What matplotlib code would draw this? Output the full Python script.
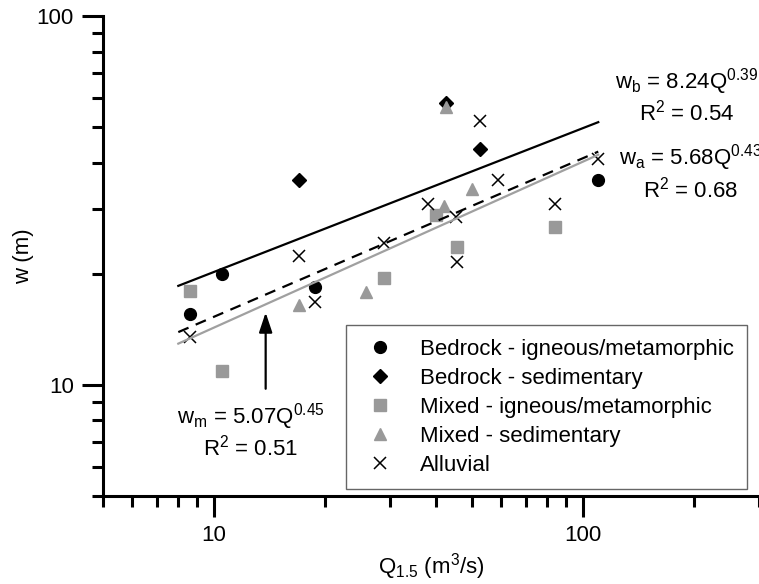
import matplotlib
matplotlib.use("Agg")
import numpy as np
import matplotlib.pyplot as plt
from matplotlib.ticker import LogLocator, NullFormatter, FixedLocator

plt.rcParams['font.family'] = ['Liberation Sans', 'DejaVu Sans']
plt.rcParams['mathtext.fontset'] = 'custom'
plt.rcParams['mathtext.rm'] = 'Liberation Sans'
plt.rcParams['mathtext.it'] = 'Liberation Sans:italic'

# discharge Q1.5 (m3/s) and width w (m)
bed_ign_q = [8.6, 10.5, 18.8, 110]
bed_ign_w = [15.6, 20.0, 18.4, 36.0]
bed_sed_q = [17.0, 42.5, 52.5]
bed_sed_w = [36.0, 58.0, 43.5]
mix_ign_q = [8.6, 10.5, 28.8, 40.0, 45.5, 84.0]
mix_ign_w = [18.0, 10.9, 19.5, 28.8, 23.7, 26.8]
mix_sed_q = [17.0, 25.8, 42.0, 42.5, 50.0]
mix_sed_w = [16.4, 17.8, 30.5, 56.5, 34.0]
alluv_q = [8.6, 17.0, 18.8, 28.8, 38.0, 45.3, 45.5, 52.5, 59.0, 84.0, 110]
alluv_w = [13.5, 22.4, 16.8, 24.2, 31.0, 28.5, 21.5, 52.0, 36.0, 31.0, 41.0]

# power-law fits w = a * Q^b
fit_names = ['b', 'a', 'm']
fit_coef = [8.24, 5.68, 5.07]
fit_exp = [0.39, 0.43, 0.45]
fit_r2 = [0.54, 0.68, 0.51]
fit_range = [8.0, 110.0]

fig = plt.figure(figsize=(7.59, 5.84), dpi=100)
ax = fig.add_axes([103 / 759, 1 - 495.7 / 584, 656 / 759, 479.7 / 584])

gray = '#999999'
ms = 8.5
ax.plot(bed_ign_q, bed_ign_w, 'o', color='black', ms=ms, ls='none',
        label='Bedrock - igneous/metamorphic')
ax.plot(bed_sed_q, bed_sed_w, 'D', color='black', ms=7, ls='none',
        label='Bedrock - sedimentary')
ax.plot(mix_ign_q, mix_ign_w, 's', color=gray, ms=ms, ls='none',
        label='Mixed - igneous/metamorphic')
ax.plot(mix_sed_q, mix_sed_w, '^', color=gray, ms=ms, ls='none',
        label='Mixed - sedimentary')
ax.plot(alluv_q, alluv_w, 'x', color='black', ms=ms, mew=1.1, ls='none',
        label='Alluvial')

qq = np.array(fit_range)
styles = [dict(color='black', ls='-', lw=1.6),
          dict(color='black', ls=(0, (5, 3.5)), lw=1.6),
          dict(color='#a0a0a0', ls='-', lw=1.6)]
for a, b, st in zip(fit_coef, fit_exp, styles):
    ax.plot(qq, a * qq ** b, **st)

fs = 16
# equation labels (the right-hand ones run off the edge, as in the original)
ax.text(191, 66.3, r'w$_\mathregular{b}$ = %.2fQ$^\mathregular{%.2f}$' % (fit_coef[0], fit_exp[0]),
        ha='center', va='center', fontsize=fs, clip_on=False)
ax.text(191, 54.7, r'R$^\mathregular{2}$ = %.2f' % fit_r2[0],
        ha='center', va='center', fontsize=fs)
ax.text(196, 41.3, r'w$_\mathregular{a}$ = %.2fQ$^\mathregular{%.2f}$' % (fit_coef[1], fit_exp[1]),
        ha='center', va='center', fontsize=fs, clip_on=False)
ax.text(196, 33.8, r'R$^\mathregular{2}$ = %.2f' % fit_r2[1],
        ha='center', va='center', fontsize=fs)
ax.text(12.6, 8.2, r'w$_\mathregular{m}$ = %.2fQ$^\mathregular{%.2f}$' % (fit_coef[2], fit_exp[2]),
        ha='center', va='center', fontsize=fs)
ax.text(12.6, 6.74, r'R$^\mathregular{2}$ = %.2f' % fit_r2[2],
        ha='center', va='center', fontsize=fs)
ax.annotate('', xy=(13.8, 15.7), xytext=(13.8, 9.75),
            arrowprops=dict(arrowstyle='-|>,head_length=1.2,head_width=0.4',
                            color='black', lw=1.6, shrinkA=0, shrinkB=0))

ax.set_xscale('log')
ax.set_yscale('log')
ax.set_xlim(5, 300)
ax.set_ylim(5, 100)

ax.xaxis.set_major_locator(FixedLocator([10, 100]))
ax.yaxis.set_major_locator(FixedLocator([10, 100]))
ax.xaxis.set_minor_locator(LogLocator(base=10, subs=np.arange(2, 10)))
ax.yaxis.set_minor_locator(LogLocator(base=10, subs=np.arange(2, 10)))
ax.xaxis.set_minor_formatter(NullFormatter())
ax.yaxis.set_minor_formatter(NullFormatter())
ax.set_xticklabels(['10', '100'])
ax.set_yticklabels(['10', '100'])

for s in ['top', 'right']:
    ax.spines[s].set_visible(False)
for s in ['left', 'bottom']:
    ax.spines[s].set_linewidth(2.2)
ax.tick_params(which='major', length=15, width=2.2, labelsize=fs, pad=6)
ax.tick_params(which='minor', length=8, width=2.2)

ax.set_xlabel(r'Q$_\mathregular{1.5}$ (m$^\mathregular{3}$/s)', fontsize=fs, labelpad=4)
ax.set_ylabel('w (m)', fontsize=fs, labelpad=2)

leg = ax.legend(loc='lower left', bbox_to_anchor=(0.37, 0.014), fontsize=fs,
                frameon=True, fancybox=False, edgecolor='#404040',
                handlelength=1.85, handletextpad=0.9, borderpad=0.6,
                labelspacing=0.36, borderaxespad=0)
leg.get_frame().set_linewidth(1.0)

fig.savefig('out.png', dpi=100)
